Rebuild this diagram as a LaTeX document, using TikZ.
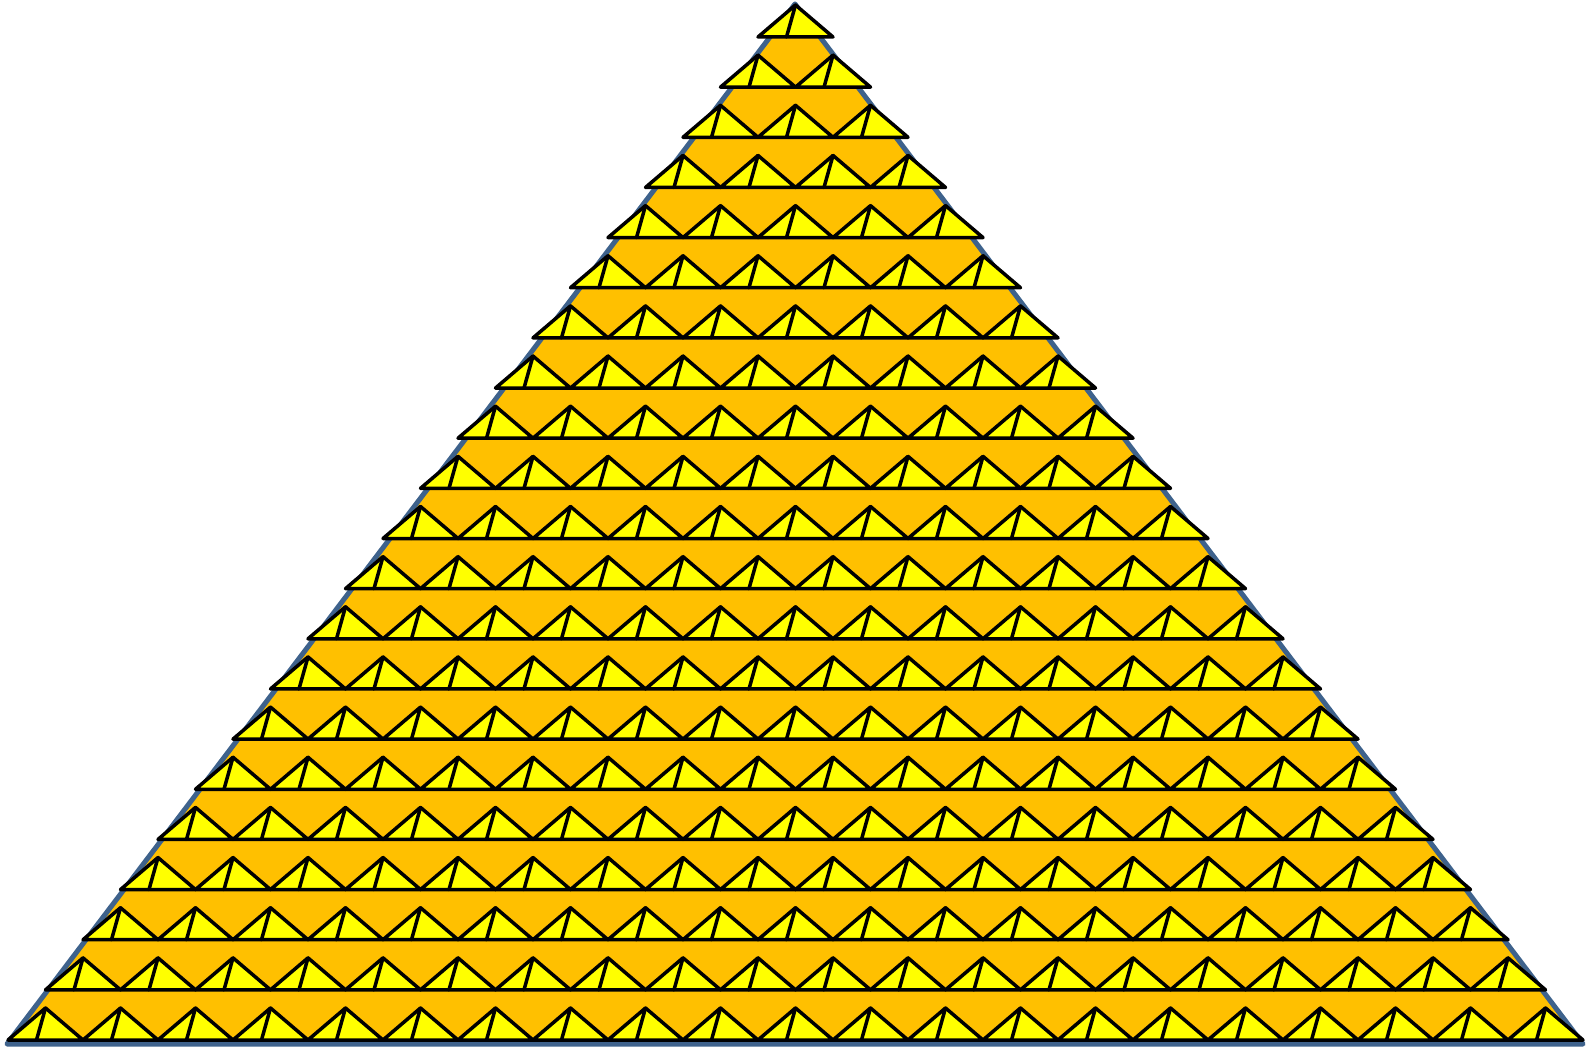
\documentclass[tikz,border=0pt]{standalone}
\definecolor{gold}{RGB}{255,192,0}
\definecolor{yel}{RGB}{255,255,0}
\definecolor{edgeblue}{RGB}{62,98,140}
\begin{document}
\begin{tikzpicture}[x=0.5pt,y=-0.5pt,
  pyr/.style={fill=gold, draw=edgeblue, line width=2.5pt, line join=round},
  tri/.style={fill=yel, draw=black, line width=1.75pt, line join=round},
  seam/.style={draw=black, line width=1.75pt, line cap=round}]
\useasboundingbox (0,0) rectangle (1594,1047);
\path[pyr] (795,4) -- (1583,1044) -- (7,1044) -- cycle;
\foreach \n in {1,...,21}{
  \pgfmathsetmacro\yb{37+(\n-1)*50.15}
  \pgfmathsetmacro\xs{8+(21-\n)*37.5}
  \foreach \k in {1,...,\n}{
    \pgfmathsetmacro\xl{\xs+(\k-1)*75}
    \draw[tri] (\xl,\yb) -- ++(37.5,-32) -- ++(37.5,32) -- cycle;
    \draw[seam] (\xl+37.5,\yb-32) -- (\xl+28.5,\yb);
  }
}
\end{tikzpicture}
\end{document}
